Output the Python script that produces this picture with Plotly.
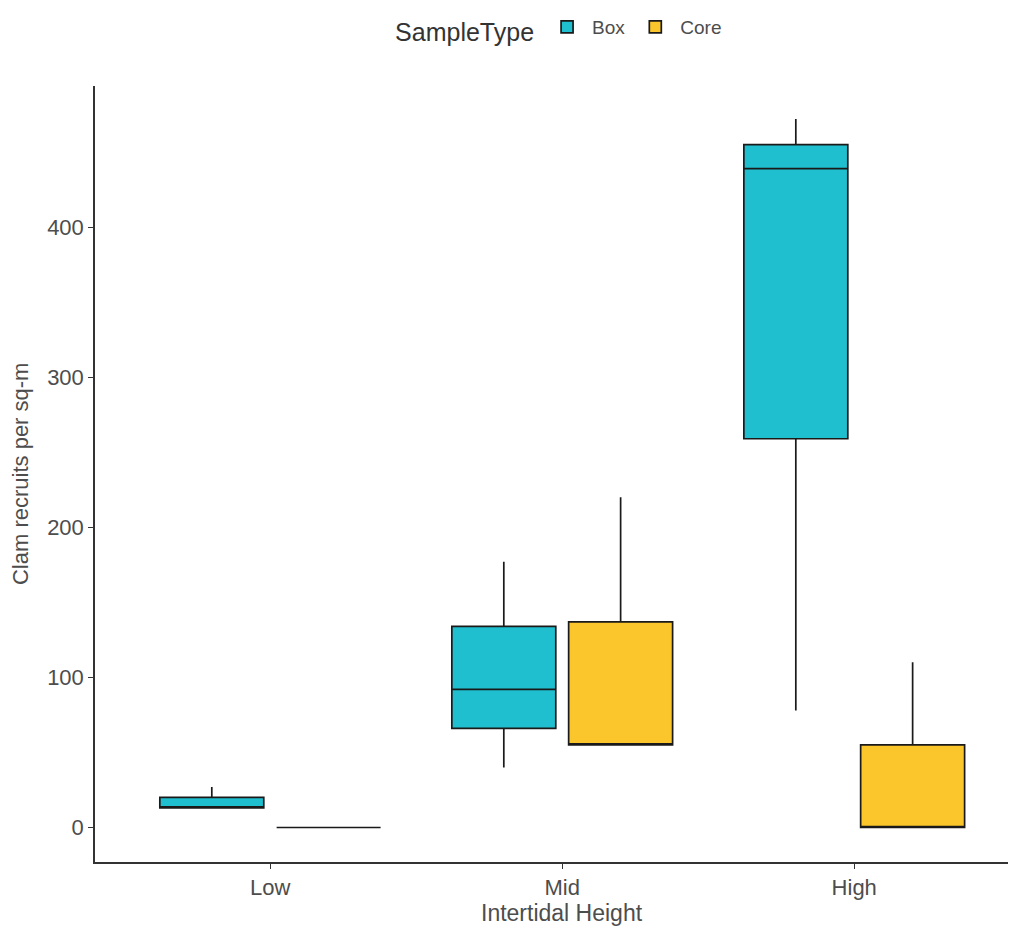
import plotly.graph_objects as go

categories = ["Low", "Mid", "High"]

box_q1 = [13, 66, 259]
box_median = [13, 92, 439]
box_q3 = [20, 134, 455]
box_lower = [13, 40, 78]
box_upper = [27, 177, 472]

core_q1 = [0, 55, 0]
core_median = [0, 55, 0]
core_q3 = [0, 137, 55]
core_lower = [0, 55, 0]
core_upper = [0, 220, 110]

y_ticks = [0, 100, 200, 300, 400]

fig = go.Figure()
fig.add_trace(go.Box(
    name="Box", x=categories, q1=box_q1, median=box_median, q3=box_q3,
    lowerfence=box_lower, upperfence=box_upper,
    fillcolor="#1FBFCF", line=dict(color="#1a1a1a", width=1.7),
    whiskerwidth=0, boxpoints=False,
))
fig.add_trace(go.Box(
    name="Core", x=categories, q1=core_q1, median=core_median, q3=core_q3,
    lowerfence=core_lower, upperfence=core_upper,
    fillcolor="#FBC62C", line=dict(color="#1a1a1a", width=1.7),
    whiskerwidth=0, boxpoints=False,
))

font_family = "Liberation Sans, Arial, sans-serif"
fig.update_layout(
    width=1008, height=921,
    boxmode="group", boxgap=0.2, boxgroupgap=0.11,
    plot_bgcolor="white", paper_bgcolor="white",
    margin=dict(l=87, r=0, t=77, b=67),
    font=dict(family=font_family, color="#4d4d4d", size=15),
    legend=dict(
        orientation="h", x=0.505, xanchor="center", y=1.073, yanchor="middle",
        title=dict(text="SampleType", font=dict(size=25, color="#333333")),
        font=dict(size=19, color="#4d4d4d"),
        itemwidth=40,
    ),
    xaxis=dict(
        range=[-0.6, 2.554], showline=True, linecolor="#333333", linewidth=1.5,
        ticks="outside", ticklen=5, tickcolor="#333333", showgrid=False,
        tickfont=dict(size=22, color="#4d4d4d"),
    ),
    yaxis=dict(
        range=[-23, 494], tickvals=y_ticks, showline=True, linecolor="#333333",
        linewidth=1.5, ticks="outside", ticklen=5, tickcolor="#333333",
        showgrid=False, zeroline=False, tickfont=dict(size=22, color="#4d4d4d"),
    ),
    annotations=[
        dict(text="Intertidal Height", xref="x", yref="paper", x=1, y=-0.0656,
             xanchor="center", yanchor="middle", showarrow=False,
             font=dict(size=23, color="#4d4d4d")),
        dict(text="Clam recruits per sq-m", xref="paper", yref="paper", x=-0.0814, y=0.5,
             xanchor="center", yanchor="middle", textangle=-90, showarrow=False,
             font=dict(size=22, color="#4d4d4d")),
    ],
)

fig.write_html("out.html")
